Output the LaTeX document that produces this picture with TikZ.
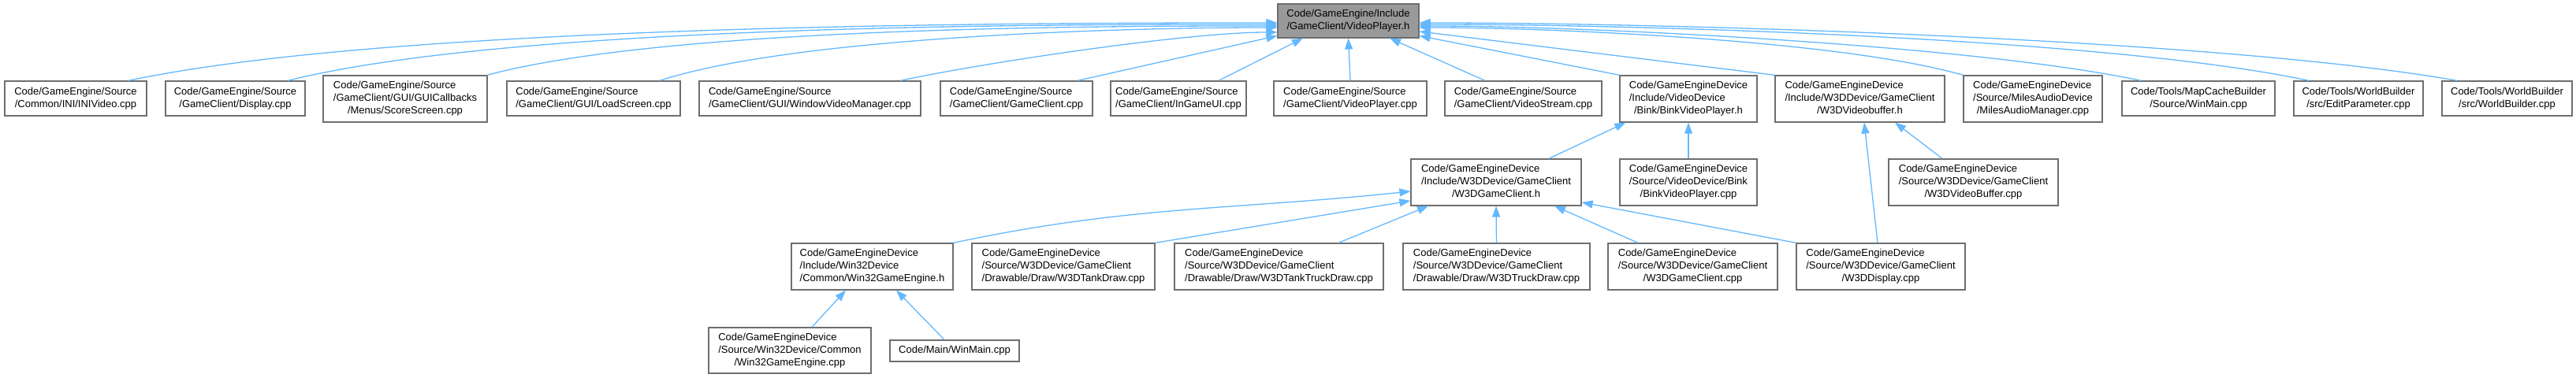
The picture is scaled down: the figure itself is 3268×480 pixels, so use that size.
\documentclass[tikz,border=0pt]{standalone}
\usepackage{fontspec}
\setmainfont{Liberation Sans}
\usepackage{tikz}
\usetikzlibrary{arrows.meta,positioning,calc}
\usepackage{xcolor}
\definecolor{edgeblue}{RGB}{99,184,255}
\definecolor{boxgray}{RGB}{110,110,110}
\definecolor{maingray}{RGB}{153,153,153}
\newcommand{\twoline}[2]{\begin{tabular}{@{}l@{}}#1\\\multicolumn{1}{@{}c@{}}{#2}\end{tabular}}
\newcommand{\threeline}[3]{\begin{tabular}{@{}l@{}}#1\\#2\\\multicolumn{1}{@{}c@{}}{#3}\end{tabular}}

\begin{document}
\begin{tikzpicture}[x=0.1pt, y=0.1pt,
    file/.style={draw=boxgray, line width=0.12pt, fill=white, inner sep=0pt,
      minimum height=4.4pt, font=\fontsize{1.3}{1.6}\selectfont},
    tall/.style={file, minimum height=5.9pt},
    mainfile/.style={file, fill=maingray},
    link/.style={edgeblue, line width=0.13pt, -{Triangle[length=1.4pt,width=1pt]}}]
  \useasboundingbox (0,0) rectangle (3268,-480);

  % Included file
  \node[mainfile, minimum width=17.9pt, minimum height=4.3pt] (main) at (1710.5,-26.5)
    {\twoline{Code/GameEngine/Include}{/GameClient/VideoPlayer.h}};

  % Direct includers
  \node[file, minimum width=18pt] (iniv) at (96,-125)
    {\twoline{Code/GameEngine/Source}{/Common/INI/INIVideo.cpp}};
  \node[file, minimum width=17.7pt] (disp) at (298.5,-125)
    {\twoline{Code/GameEngine/Source}{/GameClient/Display.cpp}};
  \node[tall, minimum width=20.8pt] (score) at (514,-125.5)
    {\threeline{Code/GameEngine/Source}{/GameClient/GUI/GUICallbacks}{/Menus/ScoreScreen.cpp}};
  \node[file, minimum width=22pt] (loadscr) at (753,-125)
    {\twoline{Code/GameEngine/Source}{/GameClient/GUI/LoadScreen.cpp}};
  \node[file, minimum width=28.1pt] (winvid) at (1027.5,-125)
    {\twoline{Code/GameEngine/Source}{/GameClient/GUI/WindowVideoManager.cpp}};
  \node[file, minimum width=19.3pt] (gclient) at (1289.5,-125)
    {\twoline{Code/GameEngine/Source}{/GameClient/GameClient.cpp}};
  \node[file, minimum width=17.2pt] (ingame) at (1495,-125)
    {\twoline{Code/GameEngine/Source}{/GameClient/InGameUI.cpp}};
  \node[file, minimum width=19.4pt] (vplay) at (1713,-125)
    {\twoline{Code/GameEngine/Source}{/GameClient/VideoPlayer.cpp}};
  \node[file, minimum width=19.9pt] (vstream) at (1932.5,-125)
    {\twoline{Code/GameEngine/Source}{/GameClient/VideoStream.cpp}};
  \node[tall, minimum width=17.4pt] (binkh) at (2142,-125.5)
    {\threeline{Code/GameEngineDevice}{/Include/VideoDevice}{/Bink/BinkVideoPlayer.h}};
  \node[tall, minimum width=21.5pt] (vbufh) at (2359.5,-125.5)
    {\threeline{Code/GameEngineDevice}{/Include/W3DDevice/GameClient}{/W3DVideobuffer.h}};
  \node[tall, minimum width=17.6pt] (miles) at (2579,-125.5)
    {\threeline{Code/GameEngineDevice}{/Source/MilesAudioDevice}{/MilesAudioManager.cpp}};
  \node[file, minimum width=19.4pt] (mapcache) at (2789,-125)
    {\twoline{Code/Tools/MapCacheBuilder}{/Source/WinMain.cpp}};
  \node[file, minimum width=16.4pt] (editparam) at (2992,-125)
    {\twoline{Code/Tools/WorldBuilder}{/src/EditParameter.cpp}};
  \node[file, minimum width=16.5pt] (worldb) at (3180.5,-125)
    {\twoline{Code/Tools/WorldBuilder}{/src/WorldBuilder.cpp}};

  % Second level
  \node[tall, minimum width=21.6pt] (w3dgch) at (1898,-231.5)
    {\threeline{Code/GameEngineDevice}{/Include/W3DDevice/GameClient}{/W3DGameClient.h}};
  \node[tall, minimum width=17.4pt] (binkcpp) at (2142,-231.5)
    {\threeline{Code/GameEngineDevice}{/Source/VideoDevice/Bink}{/BinkVideoPlayer.cpp}};
  \node[tall, minimum width=21.5pt] (vbufcpp) at (2503.5,-231.5)
    {\threeline{Code/GameEngineDevice}{/Source/W3DDevice/GameClient}{/W3DVideoBuffer.cpp}};

  % Third level
  \node[tall, minimum width=20.5pt] (win32h) at (1106.5,-338.5)
    {\threeline{Code/GameEngineDevice}{/Include/Win32Device}{/Common/Win32GameEngine.h}};
  \node[tall, minimum width=23.2pt] (tank) at (1349,-338.5)
    {\threeline{Code/GameEngineDevice}{/Source/W3DDevice/GameClient}{/Drawable/Draw/W3DTankDraw.cpp}};
  \node[tall, minimum width=26.5pt] (tanktruck) at (1622.5,-338.5)
    {\threeline{Code/GameEngineDevice}{/Source/W3DDevice/GameClient}{/Drawable/Draw/W3DTankTruckDraw.cpp}};
  \node[tall, minimum width=23.7pt] (truck) at (1898.5,-338.5)
    {\threeline{Code/GameEngineDevice}{/Source/W3DDevice/GameClient}{/Drawable/Draw/W3DTruckDraw.cpp}};
  \node[tall, minimum width=21.5pt] (w3dgccpp) at (2147.5,-338.5)
    {\threeline{Code/GameEngineDevice}{/Source/W3DDevice/GameClient}{/W3DGameClient.cpp}};
  \node[tall, minimum width=21.4pt] (w3ddisp) at (2386,-338.5)
    {\threeline{Code/GameEngineDevice}{/Source/W3DDevice/GameClient}{/W3DDisplay.cpp}};

  % Fourth level
  \node[tall, minimum width=20.6pt, minimum height=5.8pt] (win32cpp) at (1002,-445)
    {\threeline{Code/GameEngineDevice}{/Source/Win32Device/Common}{/Win32GameEngine.cpp}};
  \node[file, minimum width=16.4pt, minimum height=2.7pt] (winmain) at (1211,-445.5)
    {Code/Main/WinMain.cpp};

  % Links into the header, left side
  \foreach \src/\dx/\dy/\ang in {iniv/67/-2.5/12, disp/66.5/-4.5/14, score/104/-6.5/15,
                                 loadscr/84/-8.5/18, winvid/114.5/-14.5/12}
    \draw[link] ($(\src.north)+(\dx,0)$) to[out=\ang, in=180, looseness=0.6] ($(main.west)+(0,\dy)$);
  \draw[link] ($(gclient.north)+(77.5,0)$) -- ($(main.west)+(0,-19)$);
  \draw[link] ($(ingame.north)+(51,0)$) -- ($(main.south)+(-57.5,0)$);
  \draw[link] (vplay.north) -- (main.south);
  \draw[link] ($(vstream.north)+(-48.5,0)$) -- ($(main.south)+(52.5,0)$);

  % Links into the header, right side
  \draw[link] (binkh.north west) -- ($(main.east)+(0,-19)$);
  \draw[link] (vbufh.north west) -- ($(main.east)+(0,-13.5)$);
  \draw[link] (miles.north west) to[out=164, in=0, looseness=0.6] ($(main.east)+(0,-8.5)$);
  \foreach \src/\dx/\dy/\ang in {mapcache/-73/-6.5/168, editparam/-63/-4.5/168, worldb/-63.5/-2.5/170}
    \draw[link] ($(\src.north)+(\dx,0)$) to[out=\ang, in=0, looseness=0.6] ($(main.east)+(0,\dy)$);

  % Second level links
  \draw[link] ($(w3dgch.north)+(67,0)$) -- ($(binkh.south west)+(8,0)$);
  \draw[link] (binkcpp.north) -- (binkh.south);
  \draw[link] ($(vbufcpp.north)+(-39.5,0)$) -- ($(vbufh.south)+(44.5,0)$);
  \draw[link] ($(w3ddisp.north)+(-4,0)$) -- ($(vbufh.south)+(5.5,0)$);

  % Third level links
  \draw[link] (win32h.north east) to[out=12, in=186] ($(w3dgch.west)+(0,-11.5)$);
  \draw[link] (tank.north east) -- ($(w3dgch.west)+(0,-23.5)$);
  \draw[link] ($(tanktruck.north)+(75.5,0)$) -- ($(w3dgch.south)+(-86,0)$);
  \draw[link] (truck.north) -- (w3dgch.south);
  \draw[link] ($(w3dgccpp.north)+(-69.5,0)$) -- ($(w3dgch.south)+(74,0)$);
  \draw[link] (w3ddisp.north west) -- ($(w3dgch.east)+(0,-25.5)$);

  % Fourth level links
  \draw[link] ($(win32cpp.north)+(28,0)$) -- ($(win32h.south)+(-33.5,0)$);
  \draw[link] ($(winmain.north)+(-13,0)$) -- ($(win32h.south)+(30.5,0)$);
\end{tikzpicture}
\end{document}
